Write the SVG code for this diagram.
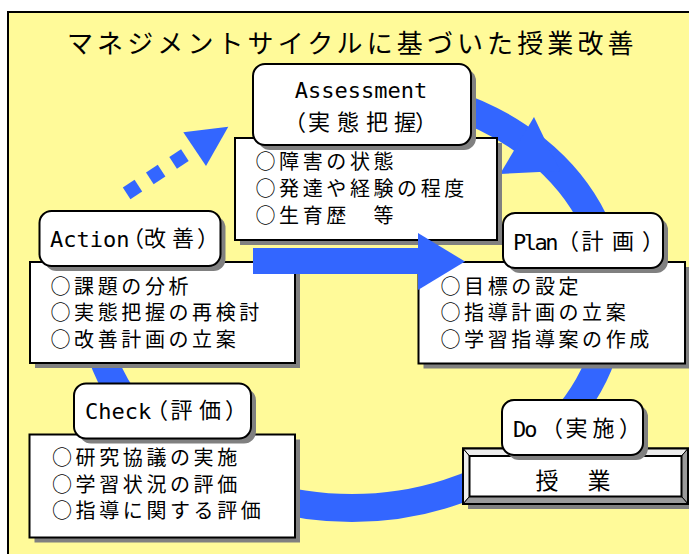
<svg xmlns="http://www.w3.org/2000/svg" width="689" height="554" viewBox="0 0 689 554">
<defs>
<style>
.panel{fill:#FFFA99;stroke:#000;stroke-width:2}
.ring{fill:none;stroke:#3366FF;stroke-width:28}
.blue{fill:#3366FF}
.shadow{fill:#808080}
.box{fill:#fff;stroke:#000;stroke-width:2}
.title{font-family:"Noto Sans CJK JP",sans-serif;font-size:26px;letter-spacing:4.1px;fill:#000}
.item{font-family:"Noto Sans CJK JP",sans-serif;font-size:20px;letter-spacing:3.6px;fill:#000}
.lat{font-family:"DejaVu Sans Mono","Liberation Mono",monospace;font-size:22px;fill:#000}
.lab{font-family:"Noto Sans CJK JP",sans-serif;font-size:22px;fill:#000}
.bevL{fill:#EDEDED;stroke:#000;stroke-width:1}
.bevD{fill:#9A9A9A;stroke:#000;stroke-width:1}
</style>
</defs>
<rect class="panel" x="8" y="12" width="700" height="560"/>
<text class="title" x="67" y="53">マネジメントサイクルに基づいた授業改善</text>

<g id="connectors">
  <path class="ring" d="M 352 88 A 260 210 0 1 1 92 298"/>
  <polygon class="blue" points="534,117 560,171 500,174"/>
  <g class="blue">
    <rect x="-7" y="-7" width="14" height="14" transform="translate(132.5,189.5) rotate(-33)"/>
    <rect x="-7" y="-7" width="14" height="14" transform="translate(155.7,174.5) rotate(-33)"/>
    <rect x="-7" y="-7" width="14" height="14" transform="translate(179,159) rotate(-33)"/>
    <polygon points="183.3,132.3 228.3,126.7 206,166"/>
  </g>
</g>

<g id="node-assessment">
  <rect class="shadow" x="240" y="143" width="262" height="102"/>
  <rect class="box" x="235" y="138" width="262" height="102"/>
  <rect class="shadow" x="258" y="69" width="218" height="81" rx="12"/>
  <rect class="box" x="253" y="64" width="218" height="81" rx="12"/>
  <text class="lat" x="361" y="98" text-anchor="middle">Assessment</text>
  <text class="lab" x="284 308 337 366 394 415" y="130">（実態把握）</text>
  <text class="item" x="255.5" y="169">○障害の状態</text>
  <text class="item" x="255.5" y="196">○発達や経験の程度</text>
  <text class="item" x="255.5" y="223">○生育歴　等</text>
</g>

<g id="node-plan">
  <rect class="shadow" x="423.5" y="267" width="266.5" height="101.5"/>
  <rect class="box" x="418.5" y="262" width="266.5" height="101.5"/>
  <rect class="shadow" x="508" y="218" width="160" height="55" rx="12"/>
  <rect class="box" x="503" y="213" width="160" height="55" rx="12"/>
  <text y="250"><tspan class="lat" x="513" letter-spacing="-2.5">Plan</tspan><tspan class="lab" x="557 581.5 612 642" y="249">（計画）</tspan></text>
  <text class="item" x="440.5" y="293.5">○目標の設定</text>
  <text class="item" x="440.5" y="320">○指導計画の立案</text>
  <text class="item" x="440.5" y="346.5">○学習指導案の作成</text>
</g>

<g id="node-action">
  <rect class="shadow" x="35" y="267" width="265" height="101"/>
  <rect class="box" x="30" y="262" width="265" height="101"/>
  <rect class="shadow" x="44.5" y="216" width="181" height="55" rx="12"/>
  <rect class="box" x="39.5" y="211" width="181" height="55" rx="12"/>
  <text y="247"><tspan class="lat" x="50">Action</tspan><tspan class="lab" x="122 144 172 197" y="246">（改善）</tspan></text>
  <text class="item" x="50.5" y="293.5">○課題の分析</text>
  <text class="item" x="50.5" y="320">○実態把握の再検討</text>
  <text class="item" x="50.5" y="346.5">○改善計画の立案</text>
</g>

<g id="node-check">
  <rect class="shadow" x="34.5" y="439.5" width="265.5" height="103"/>
  <rect class="box" x="29.5" y="434.5" width="265.5" height="103"/>
  <rect class="shadow" x="79" y="388.5" width="177" height="55" rx="12"/>
  <rect class="box" x="74" y="383.5" width="177" height="55" rx="12"/>
  <text y="419"><tspan class="lat" x="85">Check</tspan><tspan class="lab" x="146 170.5 199 225" y="418">（評価）</tspan></text>
  <text class="item" x="52" y="465">○研究協議の実施</text>
  <text class="item" x="52" y="491.5">○学習状況の評価</text>
  <text class="item" x="52" y="518">○指導に関する評価</text>
</g>

<g id="node-do">
  <rect class="shadow" x="468" y="453.5" width="225" height="55.5"/>
  <rect fill="#fff" stroke="#000" stroke-width="2" x="463" y="448.5" width="225" height="55.5"/>
  <polygon class="bevL" points="463,448.5 688,448.5 681.5,456 469.5,456"/>
  <polygon class="bevL" points="463,448.5 469.5,456 469.5,496.5 463,504"/>
  <polygon class="bevD" points="688,448.5 688,504 681.5,496.5 681.5,456"/>
  <polygon class="bevD" points="463,504 469.5,496.5 681.5,496.5 688,504"/>
  <rect fill="none" stroke="#000" stroke-width="2" x="463" y="448.5" width="225" height="55.5"/>
  <rect class="box" x="469.5" y="456" width="212" height="40.5"/>
  <text class="lab" style="font-size:23px" x="535.5 587.5" y="488.5">授業</text>
  <rect class="shadow" x="507" y="405" width="141" height="55" rx="12"/>
  <rect class="box" x="502" y="400" width="141" height="55" rx="12"/>
  <text y="436.5"><tspan class="lat" x="513" letter-spacing="-2">Do</tspan><tspan class="lab" x="541 565.5 592.5 619" y="435.5">（実施）</tspan></text>
</g>

<g id="connector-action-plan">
  <rect class="blue" x="253" y="248" width="168" height="26"/>
  <polygon class="blue" points="418,233 465,261.5 418,290"/>
</g>
</svg>
